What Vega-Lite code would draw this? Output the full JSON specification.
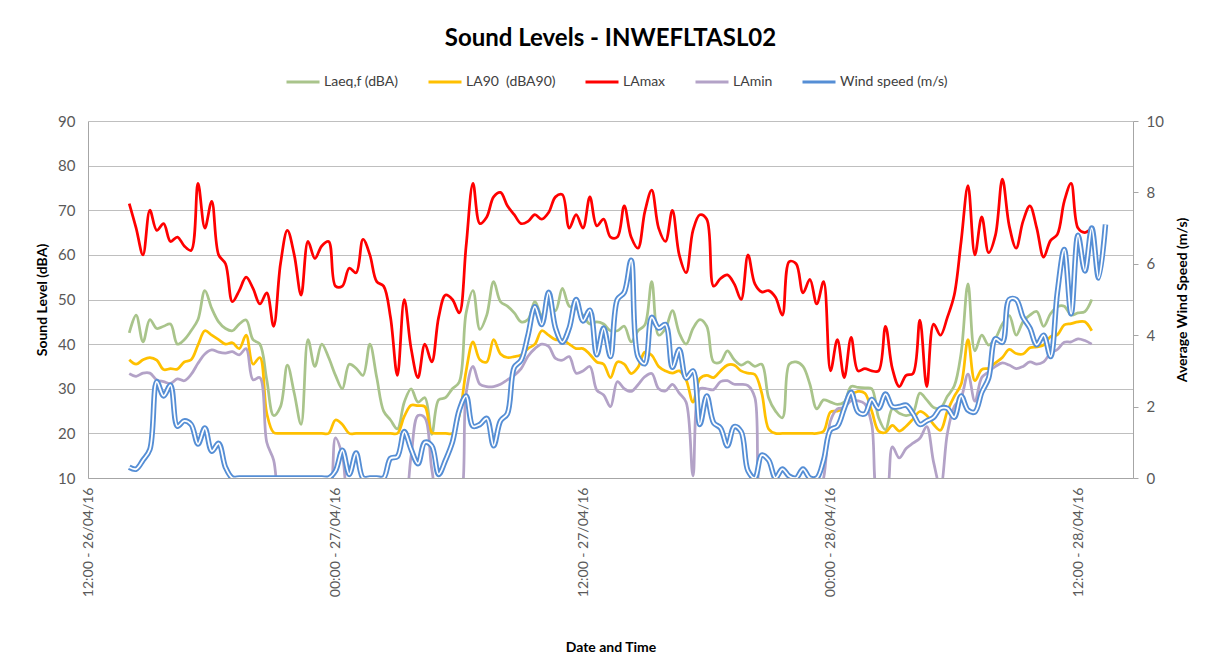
{
  "$schema": "https://vega.github.io/schema/vega-lite/v6.json",
  "width": 1045,
  "height": 357,
  "autosize": {"type": "none"},
  "padding": {"left": 88, "top": 121, "right": 77, "bottom": 187},
  "background": "white",
  "config": {"font": "Lato", "view": {"stroke": null}},
  "title": {"text": "Sound Levels - INWEFLTASL02", "fontSize": 24, "fontWeight": "bold", "color": "#000000", "anchor": "middle", "baseline": "bottom", "offset": -11},
  "data": {"values": [
    {"t":"2016-04-26T14:00","laeq":42.5,"la90":36.5,"lamax":71.5,"lamin":33.4,"wind":0.3},
    {"t":"2016-04-26T14:20","laeq":46.5,"la90":35.5,"lamax":66,"lamin":32.8,"wind":0.25},
    {"t":"2016-04-26T14:40","laeq":40.5,"la90":36.5,"lamax":60,"lamin":33.5,"wind":0.5},
    {"t":"2016-04-26T15:00","laeq":45.5,"la90":37,"lamax":70,"lamin":33.5,"wind":0.8},
    {"t":"2016-04-26T15:20","laeq":43.5,"la90":36.4,"lamax":65.5,"lamin":32,"wind":2.7},
    {"t":"2016-04-26T15:40","laeq":44,"la90":34.3,"lamax":67,"lamin":31.6,"wind":2.3},
    {"t":"2016-04-26T16:00","laeq":44.5,"la90":34.5,"lamax":63,"lamin":31.2,"wind":2.6},
    {"t":"2016-04-26T16:20","laeq":40,"la90":34.4,"lamax":64,"lamin":32.2,"wind":1.45},
    {"t":"2016-04-26T16:40","laeq":41,"la90":36,"lamax":62,"lamin":31.8,"wind":1.6},
    {"t":"2016-04-26T17:00","laeq":43,"la90":36.5,"lamax":61,"lamin":33.2,"wind":1.5},
    {"t":"2016-04-26T17:20","laeq":45.5,"la90":39.8,"lamax":76,"lamin":35.7,"wind":0.95},
    {"t":"2016-04-26T17:40","laeq":52,"la90":43,"lamax":66,"lamin":37.8,"wind":1.4},
    {"t":"2016-04-26T18:00","laeq":48,"la90":42,"lamax":72,"lamin":38.7,"wind":0.75},
    {"t":"2016-04-26T18:20","laeq":45,"la90":41,"lamax":60,"lamin":38.2,"wind":0.97},
    {"t":"2016-04-26T18:40","laeq":43.5,"la90":40,"lamax":58,"lamin":38,"wind":0.3},
    {"t":"2016-04-26T19:00","laeq":43,"la90":40.3,"lamax":49.5,"lamin":38.3,"wind":0},
    {"t":"2016-04-26T19:20","laeq":44.5,"la90":39,"lamax":52,"lamin":37.6,"wind":0},
    {"t":"2016-04-26T19:40","laeq":45.4,"la90":42,"lamax":55,"lamin":39,"wind":0},
    {"t":"2016-04-26T20:00","laeq":41,"la90":35.5,"lamax":52.5,"lamin":32,"wind":0},
    {"t":"2016-04-26T20:20","laeq":40,"la90":37,"lamax":49,"lamin":32.5,"wind":0},
    {"t":"2016-04-26T20:40","laeq":32,"la90":24.5,"lamax":51.5,"lamin":18,"wind":0},
    {"t":"2016-04-26T21:00","laeq":24,"la90":20.2,"lamax":44,"lamin":14,"wind":0},
    {"t":"2016-04-26T21:20","laeq":26,"la90":20,"lamax":58,"lamin":5,"wind":0},
    {"t":"2016-04-26T21:40","laeq":35.3,"la90":20,"lamax":65.5,"lamin":5,"wind":0},
    {"t":"2016-04-26T22:00","laeq":29,"la90":20,"lamax":60,"lamin":5,"wind":0},
    {"t":"2016-04-26T22:20","laeq":22,"la90":20,"lamax":51,"lamin":5,"wind":0},
    {"t":"2016-04-26T22:40","laeq":41,"la90":20,"lamax":63,"lamin":5,"wind":0},
    {"t":"2016-04-26T23:00","laeq":35,"la90":20,"lamax":59.2,"lamin":5,"wind":0},
    {"t":"2016-04-26T23:20","laeq":40,"la90":20,"lamax":62,"lamin":5,"wind":0},
    {"t":"2016-04-26T23:40","laeq":37,"la90":20,"lamax":63,"lamin":5,"wind":0},
    {"t":"2016-04-27T00:00","laeq":33,"la90":23,"lamax":53,"lamin":19,"wind":0.2},
    {"t":"2016-04-27T00:20","laeq":30,"la90":22,"lamax":53,"lamin":15,"wind":0.78},
    {"t":"2016-04-27T00:40","laeq":35.5,"la90":20,"lamax":57,"lamin":5,"wind":0.1},
    {"t":"2016-04-27T01:00","laeq":34.6,"la90":20,"lamax":56,"lamin":5,"wind":0.7},
    {"t":"2016-04-27T01:20","laeq":33,"la90":20,"lamax":63.5,"lamin":5,"wind":0},
    {"t":"2016-04-27T01:40","laeq":40,"la90":20,"lamax":60,"lamin":5,"wind":0},
    {"t":"2016-04-27T02:00","laeq":32.5,"la90":20,"lamax":54,"lamin":5,"wind":0},
    {"t":"2016-04-27T02:20","laeq":25,"la90":20,"lamax":53,"lamin":5,"wind":0},
    {"t":"2016-04-27T02:40","laeq":23,"la90":20,"lamax":46,"lamin":5,"wind":0.55},
    {"t":"2016-04-27T03:00","laeq":21,"la90":20,"lamax":33,"lamin":5,"wind":0.6},
    {"t":"2016-04-27T03:20","laeq":27,"la90":23.8,"lamax":50,"lamin":5,"wind":1.3},
    {"t":"2016-04-27T03:40","laeq":30,"la90":26.3,"lamax":39,"lamin":15,"wind":0.8},
    {"t":"2016-04-27T04:00","laeq":27,"la90":26.2,"lamax":32.5,"lamin":24,"wind":0.4},
    {"t":"2016-04-27T04:20","laeq":28,"la90":26,"lamax":40,"lamin":23.5,"wind":1.0},
    {"t":"2016-04-27T04:40","laeq":19.8,"la90":20.2,"lamax":36,"lamin":12,"wind":0.9},
    {"t":"2016-04-27T05:00","laeq":27.5,"la90":20,"lamax":46,"lamin":5,"wind":0.1},
    {"t":"2016-04-27T05:20","laeq":28,"la90":20,"lamax":51,"lamin":5,"wind":0.5},
    {"t":"2016-04-27T05:40","laeq":30,"la90":20,"lamax":50,"lamin":5,"wind":1.0},
    {"t":"2016-04-27T06:00","laeq":31.5,"la90":24,"lamax":47,"lamin":5,"wind":1.9},
    {"t":"2016-04-27T06:20","laeq":47,"la90":34,"lamax":62,"lamin":29,"wind":2.3},
    {"t":"2016-04-27T06:40","laeq":52,"la90":40.5,"lamax":76,"lamin":35,"wind":1.45},
    {"t":"2016-04-27T07:00","laeq":43.3,"la90":36.5,"lamax":67,"lamin":31,"wind":1.5},
    {"t":"2016-04-27T07:20","laeq":46.5,"la90":36,"lamax":68.5,"lamin":30.5,"wind":1.67},
    {"t":"2016-04-27T07:40","laeq":54,"la90":41,"lamax":73,"lamin":30.5,"wind":0.9},
    {"t":"2016-04-27T08:00","laeq":49.5,"la90":37.8,"lamax":74,"lamin":31,"wind":1.6},
    {"t":"2016-04-27T08:20","laeq":48.5,"la90":37,"lamax":71,"lamin":32,"wind":1.8},
    {"t":"2016-04-27T08:40","laeq":47,"la90":37.2,"lamax":69,"lamin":33,"wind":3.1},
    {"t":"2016-04-27T09:00","laeq":45,"la90":37.6,"lamax":67,"lamin":34.5,"wind":3.3},
    {"t":"2016-04-27T09:20","laeq":45.5,"la90":39,"lamax":67.5,"lamin":37.3,"wind":4.0},
    {"t":"2016-04-27T09:40","laeq":49.5,"la90":40,"lamax":69,"lamin":39,"wind":4.8},
    {"t":"2016-04-27T10:00","laeq":46.5,"la90":43,"lamax":68,"lamin":40,"wind":4.3},
    {"t":"2016-04-27T10:20","laeq":49,"la90":42,"lamax":69.5,"lamin":39.5,"wind":5.2},
    {"t":"2016-04-27T10:40","laeq":47.5,"la90":41,"lamax":73,"lamin":36.8,"wind":4.2},
    {"t":"2016-04-27T11:00","laeq":52.5,"la90":41,"lamax":73.5,"lamin":36.4,"wind":3.8},
    {"t":"2016-04-27T11:20","laeq":48.5,"la90":40,"lamax":66,"lamin":37.2,"wind":4.2},
    {"t":"2016-04-27T11:40","laeq":48,"la90":39,"lamax":69,"lamin":33.5,"wind":5.0},
    {"t":"2016-04-27T12:00","laeq":46.5,"la90":39,"lamax":66,"lamin":34,"wind":4.4},
    {"t":"2016-04-27T12:20","laeq":44.5,"la90":37.7,"lamax":73,"lamin":35,"wind":4.7},
    {"t":"2016-04-27T12:40","laeq":45,"la90":36,"lamax":66.5,"lamin":29.7,"wind":3.45},
    {"t":"2016-04-27T13:00","laeq":44.5,"la90":35.5,"lamax":68,"lamin":28.6,"wind":4.2},
    {"t":"2016-04-27T13:20","laeq":43,"la90":32.5,"lamax":64,"lamin":26,"wind":3.4},
    {"t":"2016-04-27T13:40","laeq":43,"la90":36,"lamax":64,"lamin":31.6,"wind":5.0},
    {"t":"2016-04-27T14:00","laeq":44,"la90":35.5,"lamax":71,"lamin":30,"wind":5.2},
    {"t":"2016-04-27T14:20","laeq":40.5,"la90":33.4,"lamax":64,"lamin":29.4,"wind":6.1},
    {"t":"2016-04-27T14:40","laeq":43,"la90":34.8,"lamax":61.5,"lamin":30.9,"wind":3.4},
    {"t":"2016-04-27T15:00","laeq":44.3,"la90":38.2,"lamax":69.7,"lamin":32.7,"wind":3.2},
    {"t":"2016-04-27T15:20","laeq":54,"la90":37.5,"lamax":74.5,"lamin":33.4,"wind":4.5},
    {"t":"2016-04-27T15:40","laeq":42,"la90":35,"lamax":66,"lamin":30,"wind":4.2},
    {"t":"2016-04-27T16:00","laeq":43.5,"la90":34,"lamax":63,"lamin":29.5,"wind":4.3},
    {"t":"2016-04-27T16:20","laeq":47.5,"la90":33.5,"lamax":70,"lamin":31,"wind":3.1},
    {"t":"2016-04-27T16:40","laeq":42.5,"la90":34,"lamax":60,"lamin":29,"wind":3.6},
    {"t":"2016-04-27T17:00","laeq":40,"la90":32,"lamax":56,"lamin":27,"wind":2.8},
    {"t":"2016-04-27T17:20","laeq":43.5,"la90":27,"lamax":65.5,"lamin":10.5,"wind":3.0},
    {"t":"2016-04-27T17:40","laeq":45.5,"la90":32.3,"lamax":69,"lamin":30,"wind":1.5},
    {"t":"2016-04-27T18:00","laeq":44,"la90":33,"lamax":68,"lamin":30,"wind":2.3},
    {"t":"2016-04-27T18:20","laeq":36,"la90":32.5,"lamax":53,"lamin":29.8,"wind":1.55},
    {"t":"2016-04-27T18:40","laeq":36,"la90":34,"lamax":54.7,"lamin":31.6,"wind":1.4},
    {"t":"2016-04-27T19:00","laeq":38.5,"la90":35.3,"lamax":55.5,"lamin":31.8,"wind":0.9},
    {"t":"2016-04-27T19:20","laeq":36.5,"la90":35.3,"lamax":53.5,"lamin":31,"wind":1.44},
    {"t":"2016-04-27T19:40","laeq":35.3,"la90":34,"lamax":50,"lamin":31,"wind":1.3},
    {"t":"2016-04-27T20:00","laeq":36,"la90":33.5,"lamax":60,"lamin":30.7,"wind":0.2},
    {"t":"2016-04-27T20:20","laeq":35,"la90":33.2,"lamax":53.5,"lamin":28,"wind":0},
    {"t":"2016-04-27T20:40","laeq":35.5,"la90":29,"lamax":51.7,"lamin":5,"wind":0.64},
    {"t":"2016-04-27T21:00","laeq":28,"la90":21,"lamax":52,"lamin":5,"wind":0.5},
    {"t":"2016-04-27T21:20","laeq":25,"la90":20,"lamax":50.5,"lamin":5,"wind":0},
    {"t":"2016-04-27T21:40","laeq":23.5,"la90":20,"lamax":46.5,"lamin":5,"wind":0.25},
    {"t":"2016-04-27T22:00","laeq":35.5,"la90":20,"lamax":58.5,"lamin":5,"wind":0.05},
    {"t":"2016-04-27T22:20","laeq":36,"la90":20,"lamax":58,"lamin":5,"wind":0},
    {"t":"2016-04-27T22:40","laeq":35,"la90":20,"lamax":51.5,"lamin":5,"wind":0.25},
    {"t":"2016-04-27T23:00","laeq":31,"la90":20,"lamax":54.5,"lamin":5,"wind":0},
    {"t":"2016-04-27T23:20","laeq":25.5,"la90":20,"lamax":49,"lamin":5,"wind":0},
    {"t":"2016-04-27T23:40","laeq":27.5,"la90":20.5,"lamax":54,"lamin":10,"wind":0.5},
    {"t":"2016-04-28T00:00","laeq":27,"la90":24.8,"lamax":34,"lamin":22.8,"wind":1.35},
    {"t":"2016-04-28T00:20","laeq":26.5,"la90":25,"lamax":41,"lamin":25.5,"wind":1.45},
    {"t":"2016-04-28T00:40","laeq":27,"la90":25.6,"lamax":32.5,"lamin":25.8,"wind":1.95},
    {"t":"2016-04-28T01:00","laeq":30.5,"la90":28.5,"lamax":41.5,"lamin":27.3,"wind":2.4},
    {"t":"2016-04-28T01:20","laeq":30.3,"la90":29.4,"lamax":34,"lamin":27.3,"wind":1.85},
    {"t":"2016-04-28T01:40","laeq":30.2,"la90":29,"lamax":34.5,"lamin":26.6,"wind":1.8},
    {"t":"2016-04-28T02:00","laeq":30,"la90":25,"lamax":34,"lamin":22,"wind":2.2},
    {"t":"2016-04-28T02:20","laeq":23.5,"la90":20.5,"lamax":34,"lamin":5,"wind":1.95},
    {"t":"2016-04-28T02:40","laeq":20.8,"la90":20.2,"lamax":44,"lamin":5,"wind":2.35},
    {"t":"2016-04-28T03:00","laeq":25.5,"la90":21.8,"lamax":34.5,"lamin":17,"wind":2.0},
    {"t":"2016-04-28T03:20","laeq":24.5,"la90":20.5,"lamax":30.5,"lamin":14.5,"wind":2.0},
    {"t":"2016-04-28T03:40","laeq":24,"la90":21.6,"lamax":33,"lamin":16.6,"wind":2.04},
    {"t":"2016-04-28T04:00","laeq":24.6,"la90":23.2,"lamax":33.4,"lamin":17.8,"wind":1.8},
    {"t":"2016-04-28T04:20","laeq":29,"la90":24.9,"lamax":45.4,"lamin":18.9,"wind":1.5},
    {"t":"2016-04-28T04:40","laeq":27.5,"la90":24,"lamax":30.5,"lamin":21.5,"wind":1.6},
    {"t":"2016-04-28T05:00","laeq":25.8,"la90":22,"lamax":44.5,"lamin":13.5,"wind":1.7},
    {"t":"2016-04-28T05:20","laeq":25.7,"la90":20.7,"lamax":42,"lamin":8,"wind":1.95},
    {"t":"2016-04-28T05:40","laeq":28.3,"la90":25,"lamax":46,"lamin":20,"wind":1.95},
    {"t":"2016-04-28T06:00","laeq":30.6,"la90":28.3,"lamax":51,"lamin":26,"wind":1.7},
    {"t":"2016-04-28T06:20","laeq":38,"la90":31,"lamax":63,"lamin":28,"wind":2.3},
    {"t":"2016-04-28T06:40","laeq":53.5,"la90":41,"lamax":75.5,"lamin":33.3,"wind":1.9},
    {"t":"2016-04-28T07:00","laeq":38.5,"la90":31.8,"lamax":60,"lamin":27.2,"wind":1.85},
    {"t":"2016-04-28T07:20","laeq":42,"la90":34.3,"lamax":68.5,"lamin":32.5,"wind":2.4},
    {"t":"2016-04-28T07:40","laeq":39.8,"la90":34.6,"lamax":60.5,"lamin":33.8,"wind":2.8},
    {"t":"2016-04-28T08:00","laeq":41.3,"la90":35.8,"lamax":64.5,"lamin":35,"wind":3.9},
    {"t":"2016-04-28T08:20","laeq":44.5,"la90":37,"lamax":77,"lamin":35.8,"wind":3.8},
    {"t":"2016-04-28T08:40","laeq":46.4,"la90":38.8,"lamax":66.5,"lamin":35.3,"wind":5.0},
    {"t":"2016-04-28T09:00","laeq":42,"la90":37.9,"lamax":61.5,"lamin":34.5,"wind":5.0},
    {"t":"2016-04-28T09:20","laeq":45,"la90":37.8,"lamax":67.5,"lamin":35,"wind":4.5},
    {"t":"2016-04-28T09:40","laeq":46.5,"la90":39.2,"lamax":71,"lamin":36,"wind":4.2},
    {"t":"2016-04-28T10:00","laeq":47.3,"la90":39.4,"lamax":66,"lamin":35.5,"wind":3.73},
    {"t":"2016-04-28T10:20","laeq":44,"la90":39.8,"lamax":59.5,"lamin":36,"wind":4.0},
    {"t":"2016-04-28T10:40","laeq":46.8,"la90":41.7,"lamax":63.2,"lamin":38,"wind":3.4},
    {"t":"2016-04-28T11:00","laeq":48.4,"la90":42.1,"lamax":64.6,"lamin":38.8,"wind":5.2},
    {"t":"2016-04-28T11:20","laeq":48.5,"la90":44.3,"lamax":72,"lamin":40.4,"wind":6.4},
    {"t":"2016-04-28T11:40","laeq":46.5,"la90":44.6,"lamax":76,"lamin":40.5,"wind":4.6},
    {"t":"2016-04-28T12:00","laeq":47,"la90":45,"lamax":66,"lamin":41.2,"wind":6.8},
    {"t":"2016-04-28T12:20","laeq":47.3,"la90":45,"lamax":65,"lamin":40.8,"wind":5.8},
    {"t":"2016-04-28T12:40","laeq":50,"la90":43,"lamax":66,"lamin":40,"wind":7.0},
    {"t":"2016-04-28T13:00","laeq":null,"la90":null,"lamax":null,"lamin":null,"wind":5.6},
    {"t":"2016-04-28T13:20","laeq":null,"la90":null,"lamax":null,"lamin":null,"wind":7.1}
  ]},
  "layer": [
    {
      "transform": [
        {"fold": ["laeq", "la90", "lamax", "lamin"], "as": ["series", "value"]},
        {"filter": "isValid(datum.value)"}
      ],
      "mark": {"type": "line", "interpolate": "catmull-rom", "strokeWidth": 2.75, "clip": true},
      "encoding": {
        "x": {
          "field": "t", "type": "temporal",
          "scale": {"domain": [{"year": 2016, "month": 4, "date": 26, "hours": 12}, {"year": 2016, "month": 4, "date": 28, "hours": 14, "minutes": 40}]},
          "axis": {
            "values": [
              {"year": 2016, "month": 4, "date": 26, "hours": 12},
              {"year": 2016, "month": 4, "date": 27, "hours": 0},
              {"year": 2016, "month": 4, "date": 27, "hours": 12},
              {"year": 2016, "month": 4, "date": 28, "hours": 0},
              {"year": 2016, "month": 4, "date": 28, "hours": 12}
            ],
            "format": "%H:%M - %d/%m/%y",
            "labelAngle": -90,
            "labelFontSize": 14,
            "labelColor": "#595959",
            "labelPadding": 9,
            "labelFlush": false,
            "labelOverlap": false,
            "ticks": false,
            "grid": false,
            "domainColor": "#A6A6A6",
            "title": "Date and Time",
            "titleFontSize": 14,
            "titleFontWeight": "bold",
            "titleColor": "#000000",
            "titlePadding": 44
          }
        },
        "y": {
          "field": "value", "type": "quantitative",
          "scale": {"domain": [10, 90], "nice": false, "zero": false},
          "axis": {
            "orient": "left",
            "values": [10, 20, 30, 40, 50, 60, 70, 80, 90],
            "grid": true,
            "gridColor": "#BFBFBF",
            "ticks": false,
            "domainColor": "#A6A6A6",
            "labelFontSize": 15,
            "labelColor": "#595959",
            "labelPadding": 13,
            "title": "Sound Level (dBA)",
            "titleFontSize": 14,
            "titleFontWeight": "bold",
            "titleColor": "#000000",
            "titlePadding": 8
          }
        },
        "color": {
          "field": "series", "type": "nominal",
          "scale": {"domain": ["laeq", "la90", "lamax", "lamin", "wind"], "range": ["#A9C48B", "#FFC000", "#FF0000", "#B3A2C7", "#558ED5"]},
          "legend": {
            "orient": "none",
            "legendX": 197,
            "legendY": -57,
            "direction": "horizontal",
            "title": null,
            "symbolType": "stroke",
            "symbolSize": 1089,
            "symbolStrokeWidth": 3,
            "labelFontSize": 14,
            "labelColor": "#404040",
            "labelOffset": 3,
            "columnPadding": 23,
            "labelExpr": "datum.label == 'laeq' ? 'Laeq,f (dBA)' : datum.label == 'la90' ? 'LA90\u00a0 (dBA90)' : datum.label == 'lamax' ? 'LAmax' : datum.label == 'lamin' ? 'LAmin' : 'Wind speed (m/s)'"
          }
        }
      }
    },
    {
      "layer": [
        {
          "mark": {"type": "line", "interpolate": "catmull-rom", "strokeWidth": 5.5, "clip": true},
          "encoding": {
            "x": {"field": "t", "type": "temporal"},
            "y": {
              "field": "wind", "type": "quantitative",
              "scale": {"domain": [0, 10], "nice": false},
              "axis": {
                "orient": "right",
                "values": [0, 1, 2, 3, 4, 5, 6, 7, 8, 9, 10],
                "grid": false,
                "ticks": true,
                "tickSize": 5,
                "tickColor": "#A6A6A6",
                "domainColor": "#A6A6A6",
                "labelFontSize": 15,
                "labelColor": "#595959",
                "labelPadding": 8,
                "title": "Average Wind Speed (m/s)",
                "titleFontSize": 14,
                "titleFontWeight": "bold",
                "titleColor": "#000000",
                "titleAngle": -90,
                "titlePadding": 26
              }
            },
            "color": {"datum": "wind", "type": "nominal"}
          }
        },
        {
          "mark": {"type": "line", "interpolate": "catmull-rom", "strokeWidth": 1.8, "color": "#FFFFFF", "clip": true},
          "encoding": {
            "x": {"field": "t", "type": "temporal"},
            "y": {"field": "wind", "type": "quantitative", "scale": {"domain": [0, 10], "nice": false}}
          }
        }
      ]
    }
  ],
  "resolve": {"scale": {"y": "independent"}}
}
